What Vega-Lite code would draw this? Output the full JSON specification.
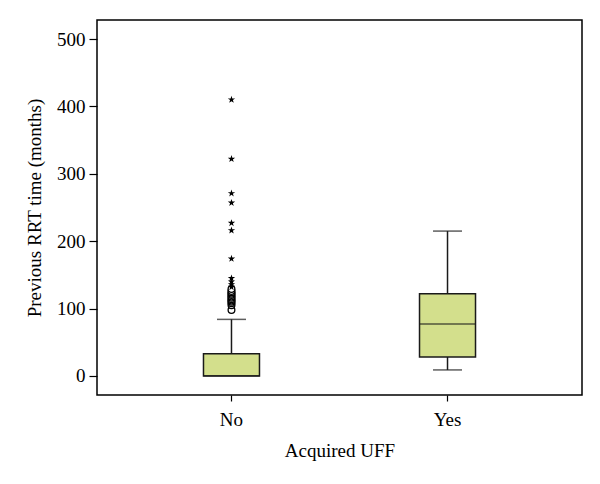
{
  "$schema": "https://vega.github.io/schema/vega-lite/v6.json",
  "width": 485,
  "height": 375,
  "autosize": {"type": "none"},
  "padding": {"left": 97, "top": 20, "right": 18, "bottom": 89},
  "background": "white",
  "config": {
    "view": {"stroke": "black", "strokeWidth": 1.5},
    "font": "Liberation Serif",
    "axis": {
      "labelFont": "Liberation Serif",
      "titleFont": "Liberation Serif",
      "labelFontSize": 19,
      "titleFontSize": 19,
      "titleFontWeight": "normal",
      "labelColor": "black",
      "titleColor": "black",
      "domainColor": "black",
      "tickColor": "black",
      "grid": false,
      "tickSize": 8,
      "domainWidth": 1.5,
      "tickWidth": 1.2
    }
  },
  "datasets": {
    "summary": [
      {"group": "No", "lower": 0, "q1": 0, "median": 0.5, "q3": 33, "upper": 84},
      {"group": "Yes", "lower": 9, "q1": 28, "median": 77, "q3": 122, "upper": 215}
    ],
    "outliers": [
      {"group": "No", "value": 98, "kind": "circle"},
      {"group": "No", "value": 105, "kind": "circle"},
      {"group": "No", "value": 108, "kind": "circle"},
      {"group": "No", "value": 110, "kind": "circle"},
      {"group": "No", "value": 112, "kind": "circle"},
      {"group": "No", "value": 114, "kind": "circle"},
      {"group": "No", "value": 116, "kind": "circle"},
      {"group": "No", "value": 118, "kind": "circle"},
      {"group": "No", "value": 120, "kind": "circle"},
      {"group": "No", "value": 122, "kind": "circle"},
      {"group": "No", "value": 124, "kind": "circle"},
      {"group": "No", "value": 126, "kind": "circle"},
      {"group": "No", "value": 129, "kind": "circle"},
      {"group": "No", "value": 132, "kind": "star"},
      {"group": "No", "value": 136, "kind": "star"},
      {"group": "No", "value": 140, "kind": "star"},
      {"group": "No", "value": 145, "kind": "star"},
      {"group": "No", "value": 174, "kind": "star"},
      {"group": "No", "value": 216, "kind": "star"},
      {"group": "No", "value": 227, "kind": "star"},
      {"group": "No", "value": 257, "kind": "star"},
      {"group": "No", "value": 271, "kind": "star"},
      {"group": "No", "value": 322, "kind": "star"},
      {"group": "No", "value": 410, "kind": "star"}
    ]
  },
  "encoding": {
    "x": {
      "field": "group",
      "type": "nominal",
      "scale": {"domain": ["No", "Yes"], "paddingInner": 0.5, "paddingOuter": 0.3725},
      "axis": {"title": "Acquired UFF", "labelAngle": 0, "labelPadding": 9, "titlePadding": 12, "domain": false, "tickSize": 6}
    }
  },
  "layer": [
    {
      "data": {"name": "summary"},
      "mark": {"type": "rule", "color": "#1a1a1a", "strokeWidth": 1.5},
      "encoding": {
        "y": {
          "field": "lower",
          "type": "quantitative",
          "scale": {"domain": [-28.2, 528.2], "nice": false, "zero": false},
          "axis": {"title": "Previous RRT time (months)", "values": [0, 100, 200, 300, 400, 500], "labelPadding": 4, "titlePadding": 12, "domain": false}
        },
        "y2": {"field": "upper"}
      }
    },
    {
      "data": {"name": "summary"},
      "mark": {"type": "bar", "fill": "#d3df8c", "stroke": "#1a1a1a", "strokeWidth": 1.5, "size": 56},
      "encoding": {
        "y": {"field": "q1", "type": "quantitative"},
        "y2": {"field": "q3"}
      }
    },
    {
      "data": {"name": "summary"},
      "mark": {"type": "tick", "color": "#1a1a1a", "size": 56, "thickness": 1.5},
      "encoding": {
        "y": {"field": "median", "type": "quantitative"}
      }
    },
    {
      "data": {"name": "summary"},
      "mark": {"type": "tick", "color": "#1a1a1a", "size": 29, "thickness": 1.5},
      "encoding": {
        "y": {"field": "upper", "type": "quantitative"}
      }
    },
    {
      "data": {"name": "summary"},
      "transform": [{"filter": "datum.lower > 0"}],
      "mark": {"type": "tick", "color": "#1a1a1a", "size": 29, "thickness": 1.5},
      "encoding": {
        "y": {"field": "lower", "type": "quantitative"}
      }
    },
    {
      "data": {"name": "outliers"},
      "transform": [{"filter": "datum.kind === 'circle'"}],
      "mark": {"type": "point", "shape": "circle", "filled": false, "fill": "white", "fillOpacity": 1, "stroke": "black", "strokeWidth": 1.3, "opacity": 1, "size": 45},
      "encoding": {
        "y": {"field": "value", "type": "quantitative"}
      }
    },
    {
      "data": {"name": "outliers"},
      "transform": [{"filter": "datum.kind === 'star'"}],
      "mark": {"type": "point", "shape": "M0,-1L0.2245,-0.309L0.951,-0.309L0.363,0.118L0.588,0.809L0,0.382L-0.588,0.809L-0.363,0.118L-0.951,-0.309L-0.2245,-0.309Z", "filled": true, "color": "black", "opacity": 1, "size": 60},
      "encoding": {
        "y": {"field": "value", "type": "quantitative"}
      }
    }
  ]
}
